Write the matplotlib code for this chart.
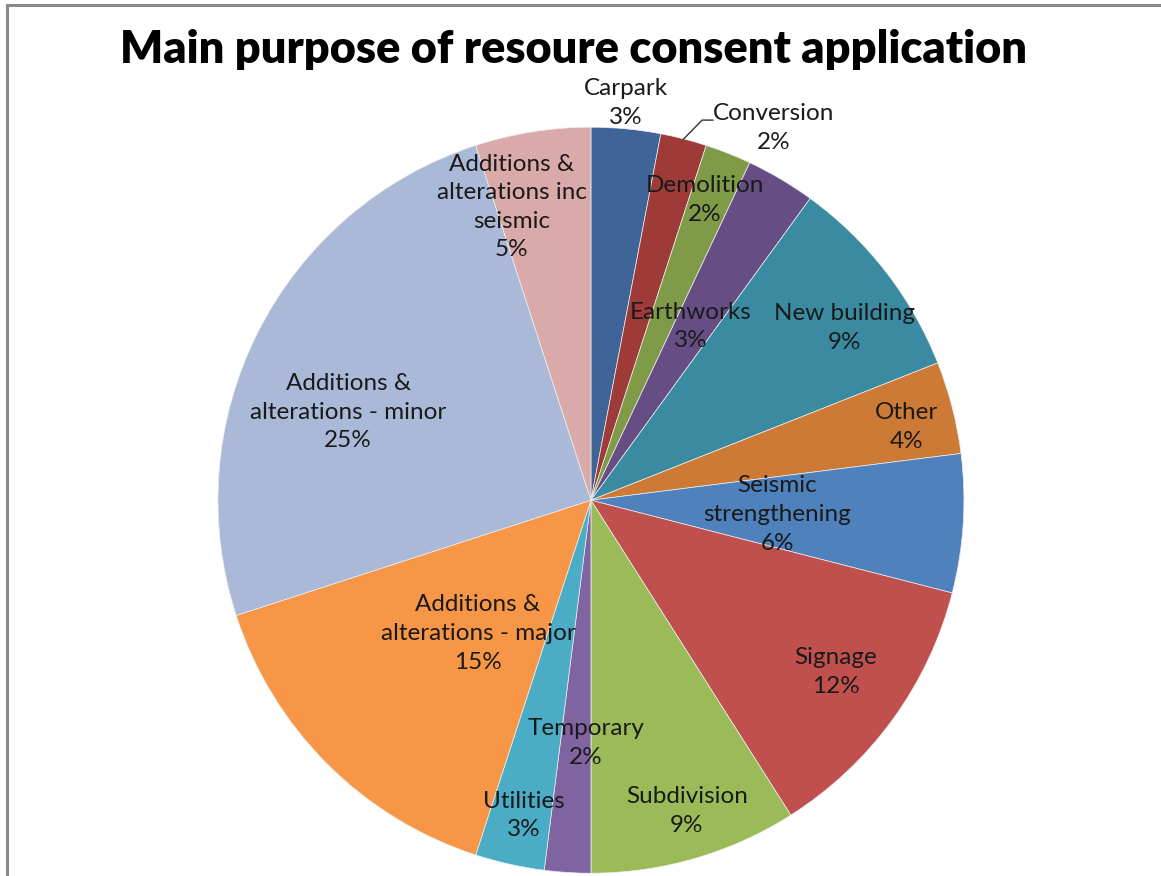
import matplotlib
matplotlib.use("Agg")
import matplotlib.pyplot as plt
from matplotlib.lines import Line2D
import numpy as np

plt.rcParams['font.family'] = ['Lato', 'DejaVu Sans']

categories = ['Carpark', 'Conversion', 'Demolition', 'Earthworks', 'New building', 'Other',
              'Seismic\nstrengthening', 'Signage', 'Subdivision', 'Temporary', 'Utilities',
              'Additions &\nalterations - major', 'Additions &\nalterations - minor',
              'Additions &\nalterations inc\nseismic']
shares = [3, 2, 2, 3, 9, 4, 6, 12, 9, 2, 3, 15, 25, 5]
colors = ['#3E6498', '#9E3B38', '#7F9B48', '#664E85', '#3A8BA1', '#CC7A35', '#4F81BD',
          '#C0504D', '#9BBB59', '#8064A2', '#4BACC6', '#F79646', '#AAB9D7', '#D9AAA9']
# label centres in pie units (radius = 1)
label_xy = [(0.094, 1.064), (0.49, 0.997), (0.306, 0.804), (0.268, 0.466), (0.681, 0.461),
            (0.845, 0.196), (0.499, -0.038), (0.657, -0.461), (0.257, -0.834), (-0.013, -0.651),
            (-0.180, -0.845), (-0.303, -0.357), (-0.651, 0.236), (-0.212, 0.786)]

fig = plt.figure(figsize=(11.61, 8.76), dpi=100)
ax = fig.add_axes([0.509 - 0.3213, 0.429 - 0.4258, 0.6426, 0.8516])
wedges, _ = ax.pie(shares, colors=colors, startangle=90, counterclock=False, radius=1,
                   wedgeprops=dict(edgecolor='#eeeeee', linewidth=0.5))
ax.set_xlim(-1, 1)
ax.set_ylim(-1, 1)
ax.set_aspect('equal')
ax.axis('off')

for name, val, (x, y) in zip(categories, shares, label_xy):
    ax.text(x, y, f'{name}\n{val}%', ha='center', va='center', fontsize=17.5,
            color='#1a1a1a', linespacing=1.45, clip_on=False)

# leader line for the small Conversion slice
w = wedges[1]
mid = np.deg2rad((w.theta1 + w.theta2) / 2)
x0, y0 = np.cos(mid), np.sin(mid)
ax.add_line(Line2D([x0, 0.298, 0.327], [y0, 1.019, 1.019], color='#333333', lw=1.0,
                   clip_on=False))

fig.text(0.494, 0.943, 'Main purpose of resoure consent application', ha='center',
         va='center', fontsize=32.5, fontweight='heavy', color='black')

# chart frame edges
fig.add_artist(Line2D([0.006, 1.0], [0.9945, 0.9945], color='#8a8a8a', lw=2.2))
fig.add_artist(Line2D([0.006, 0.006], [0.0, 0.9945], color='#8a8a8a', lw=2.2))

fig.savefig('out.png', dpi=100, facecolor='white')
